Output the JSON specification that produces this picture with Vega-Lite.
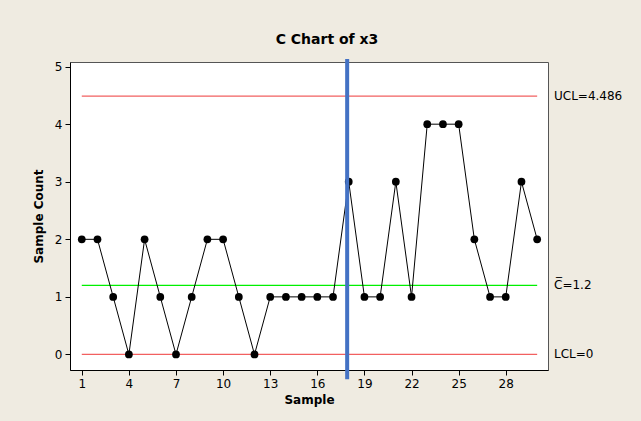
{
  "$schema": "https://vega.github.io/schema/vega-lite/v6.json",
  "width": 478,
  "height": 308,
  "autosize": {"type": "none"},
  "padding": {"left": 70, "top": 62, "right": 93, "bottom": 51},
  "background": "#EFEBE1",
  "title": {"text": "C Chart of x3", "font": "DejaVu Sans", "fontSize": 14, "fontWeight": "bold", "color": "#000000", "offset": 10, "dx": 18, "anchor": "middle"},
  "config": {
    "view": {"fill": "#FFFFFF", "stroke": "#555555", "strokeWidth": 1},
    "axis": {
      "grid": false,
      "domainColor": "#000000",
      "tickColor": "#000000",
      "tickSize": 5,
      "labelFont": "DejaVu Sans",
      "labelFontSize": 12,
      "labelColor": "#000000",
      "titleFont": "DejaVu Sans",
      "titleFontSize": 12,
      "titleFontWeight": "bold",
      "titleColor": "#000000"
    }
  },
  "datasets": {
    "samples": [
      {"sample": 1, "count": 2}, {"sample": 2, "count": 2}, {"sample": 3, "count": 1},
      {"sample": 4, "count": 0}, {"sample": 5, "count": 2}, {"sample": 6, "count": 1},
      {"sample": 7, "count": 0}, {"sample": 8, "count": 1}, {"sample": 9, "count": 2},
      {"sample": 10, "count": 2}, {"sample": 11, "count": 1}, {"sample": 12, "count": 0},
      {"sample": 13, "count": 1}, {"sample": 14, "count": 1}, {"sample": 15, "count": 1},
      {"sample": 16, "count": 1}, {"sample": 17, "count": 1}, {"sample": 18, "count": 3},
      {"sample": 19, "count": 1}, {"sample": 20, "count": 1}, {"sample": 21, "count": 3},
      {"sample": 22, "count": 1}, {"sample": 23, "count": 4}, {"sample": 24, "count": 4},
      {"sample": 25, "count": 4}, {"sample": 26, "count": 2}, {"sample": 27, "count": 1},
      {"sample": 28, "count": 1}, {"sample": 29, "count": 3}, {"sample": 30, "count": 2}
    ],
    "limits": [
      {"name": "UCL", "value": 4.486, "label": "UCL=4.486"},
      {"name": "CL", "value": 1.2, "label": "C\u0305=1.2"},
      {"name": "LCL", "value": 0, "label": "LCL=0"}
    ]
  },
  "layer": [
    {
      "data": {"name": "limits"},
      "mark": {"type": "rule", "strokeWidth": 1.3},
      "encoding": {
        "x": {"datum": 1, "type": "quantitative"},
        "x2": {"datum": 30},
        "y": {"field": "value", "type": "quantitative"},
        "color": {"field": "name", "type": "nominal", "scale": {"domain": ["UCL", "CL", "LCL"], "range": ["#F26060", "#00F000", "#F26060"]}, "legend": null}
      }
    },
    {
      "data": {"name": "samples"},
      "mark": {"type": "line", "color": "#000000", "strokeWidth": 1},
      "encoding": {
        "x": {"field": "sample", "type": "quantitative", "scale": {"domain": [0.25, 30.69], "nice": false, "zero": false}, "axis": {"title": "Sample", "values": [1, 4, 7, 10, 13, 16, 19, 22, 25, 28], "format": "d", "labelPadding": 3, "titlePadding": 5}},
        "y": {"field": "count", "type": "quantitative", "scale": {"domain": [-0.27, 5.08], "nice": false, "zero": false}, "axis": {"title": "Sample Count", "values": [0, 1, 2, 3, 4, 5], "format": "d", "labelPadding": 3, "titlePadding": 9}}
      }
    },
    {
      "data": {"name": "samples"},
      "mark": {"type": "point", "filled": true, "color": "#000000", "opacity": 1, "size": 60},
      "encoding": {
        "x": {"field": "sample", "type": "quantitative"},
        "y": {"field": "count", "type": "quantitative"}
      }
    },
    {
      "data": {"name": "limits"},
      "mark": {"type": "text", "align": "left", "baseline": "middle", "dx": 6, "font": "DejaVu Sans", "fontSize": 12, "color": "#000000"},
      "encoding": {
        "x": {"datum": 30.69, "type": "quantitative"},
        "y": {"field": "value", "type": "quantitative"},
        "text": {"field": "label"}
      }
    },
    {
      "data": {"values": [{}]},
      "mark": {"type": "rule", "color": "#4472C4", "strokeWidth": 4},
      "encoding": {
        "x": {"datum": 17.9, "type": "quantitative"},
        "y": {"datum": 5.13, "type": "quantitative"},
        "y2": {"datum": -0.43}
      }
    }
  ]
}
